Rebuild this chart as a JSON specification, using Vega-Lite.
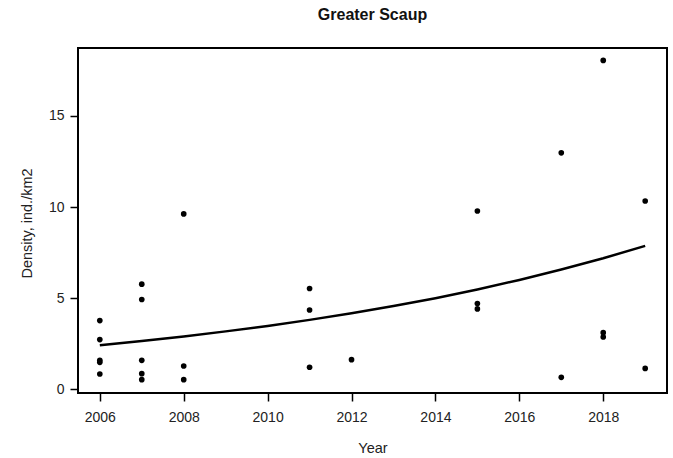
{
  "$schema": "https://vega.github.io/schema/vega-lite/v6.json",
  "width": 589,
  "height": 345,
  "autosize": {"type": "none"},
  "padding": {"left": 78, "top": 48, "right": 6, "bottom": 65},
  "background": "white",
  "config": {
    "view": {"stroke": "black", "strokeWidth": 2},
    "font": "Liberation Sans",
    "axis": {"domain": false, "grid": false, "tickColor": "black", "tickWidth": 1.5, "tickSize": 8, "labelFontSize": 14, "labelColor": "#222", "titleFontSize": 14.5, "titleFontWeight": "normal", "titleColor": "#222"}
  },
  "title": {"text": "Greater Scaup", "fontSize": 16, "fontWeight": "bold", "color": "#111", "offset": 25, "anchor": "middle"},
  "datasets": {
    "obs": [
      {"Year": 2006, "Density": 3.77}, {"Year": 2006, "Density": 2.73}, {"Year": 2006, "Density": 1.59}, {"Year": 2006, "Density": 1.48}, {"Year": 2006, "Density": 0.84},
      {"Year": 2007, "Density": 5.77}, {"Year": 2007, "Density": 4.93}, {"Year": 2007, "Density": 1.59}, {"Year": 2007, "Density": 0.86}, {"Year": 2007, "Density": 0.53},
      {"Year": 2008, "Density": 9.62}, {"Year": 2008, "Density": 1.28}, {"Year": 2008, "Density": 0.53},
      {"Year": 2011, "Density": 5.53}, {"Year": 2011, "Density": 4.35}, {"Year": 2011, "Density": 1.21},
      {"Year": 2012, "Density": 1.63},
      {"Year": 2015, "Density": 9.78}, {"Year": 2015, "Density": 4.71}, {"Year": 2015, "Density": 4.41},
      {"Year": 2017, "Density": 12.97}, {"Year": 2017, "Density": 0.66},
      {"Year": 2018, "Density": 18.04}, {"Year": 2018, "Density": 3.11}, {"Year": 2018, "Density": 2.87},
      {"Year": 2019, "Density": 10.33}, {"Year": 2019, "Density": 1.15}
    ],
    "fit": [
      {"Year": 2006, "Density": 2.42}, {"Year": 2007, "Density": 2.65}, {"Year": 2008, "Density": 2.90},
      {"Year": 2009, "Density": 3.18}, {"Year": 2010, "Density": 3.48}, {"Year": 2011, "Density": 3.81},
      {"Year": 2012, "Density": 4.17}, {"Year": 2013, "Density": 4.57}, {"Year": 2014, "Density": 5.00},
      {"Year": 2015, "Density": 5.48}, {"Year": 2016, "Density": 6.00}, {"Year": 2017, "Density": 6.57},
      {"Year": 2018, "Density": 7.19}, {"Year": 2019, "Density": 7.87}
    ]
  },
  "encoding": {
    "x": {"field": "Year", "type": "quantitative",
      "scale": {"domain": [2005.48, 2019.52], "nice": false, "zero": false},
      "axis": {"values": [2006, 2008, 2010, 2012, 2014, 2016, 2018], "format": "d", "title": "Year", "labelPadding": 9, "titleY": 55, "titleBaseline": "middle"}},
    "y": {"field": "Density", "type": "quantitative",
      "scale": {"domain": [-0.2, 18.72], "nice": false, "zero": false},
      "axis": {"values": [0, 5, 10, 15], "title": "Density, ind./km2", "labelPadding": 6, "titleX": -51, "titleY": 175, "titleBaseline": "middle", "titleAlign": "center", "titleAngle": -90}}
  },
  "layer": [
    {"data": {"name": "fit"}, "mark": {"type": "line", "color": "black", "strokeWidth": 2.5}},
    {"data": {"name": "obs"}, "mark": {"type": "circle", "color": "black", "opacity": 1, "size": 32}}
  ]
}
